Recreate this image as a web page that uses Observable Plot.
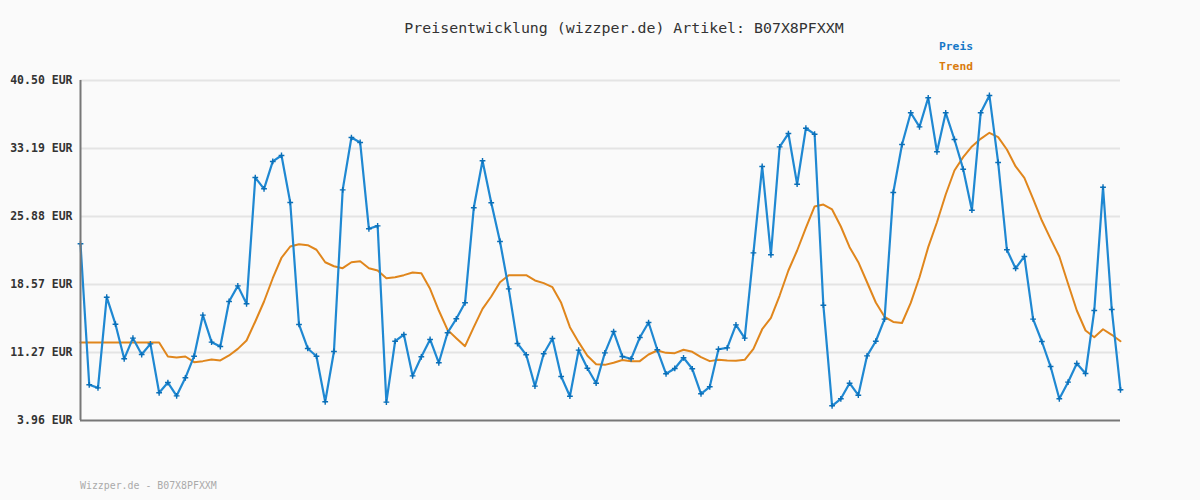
<!DOCTYPE html>
<html>
<head>
<meta charset="utf-8">
<script src="https://cdn.jsdelivr.net/npm/d3@7"></script>
<script src="https://cdn.jsdelivr.net/npm/@observablehq/plot@0.6"></script>
<style>
  html, body { margin: 0; padding: 0; background: #fafafa; }
  #wrap { position: relative; width: 1200px; height: 500px; background: #fafafa; font-family: "DejaVu Sans Mono", monospace; }
  #title { position: absolute; top: 19px; left: 0; width: 1248px; text-align: center; font-size: 14.9px; color: #333; }
  .leg { position: absolute; left: 939px; font-size: 11.3px; font-weight: bold; }
  #footer { position: absolute; left: 80px; top: 480px; font-size: 9.9px; color: #aaa; }
  #chart { position: absolute; left: 0; top: 0; }
</style>
</head>
<body>
<div id="wrap">
  <div id="chart"></div>
  <div id="title">Preisentwicklung (wizzper.de) Artikel: B07X8PFXXM</div>
  <div class="leg" style="top:40px;color:#1577c7">Preis</div>
  <div class="leg" style="top:60px;color:#d97a0c">Trend</div>
  <div id="footer">Wizzper.de - B07X8PFXXM</div>
</div>
<script>
const yTicks = [3.96, 11.27, 18.57, 25.88, 33.19, 40.50];
const preis = [22.95,7.80,7.47,17.21,14.31,10.59,12.81,11.05,12.20,6.94,
  8.04,6.61,8.55,10.87,15.28,12.38,11.91,16.75,18.43,16.50,
  30.07,28.86,31.80,32.44,27.39,14.28,11.70,10.87,5.97,11.38,
  28.75,34.37,33.84,24.56,24.88,5.93,12.48,13.20,8.76,10.81,
  12.67,10.16,13.39,14.89,16.61,26.82,31.87,27.36,23.20,18.11,
  12.23,11.02,7.65,11.13,12.77,8.69,6.57,11.52,9.58,7.97,
  11.23,13.52,10.84,10.59,12.88,14.49,11.56,8.98,9.55,10.70,
  9.52,6.83,7.58,11.62,11.77,14.24,12.81,21.98,31.26,21.77,
  33.37,34.80,29.35,35.37,34.73,16.35,5.54,6.29,7.97,6.68,
  10.91,12.48,14.85,28.47,33.62,37.03,35.52,38.64,32.84,37.03,
  34.16,30.97,26.56,37.03,38.89,31.69,22.31,20.30,21.59,14.85,
  12.45,9.76,6.29,8.08,10.09,9.01,15.78,29.03,15.89,7.26];
const trend = [12.34,12.34,12.34,12.34,12.34,12.34,12.34,12.34,12.34,12.34,
  10.84,10.73,10.84,10.23,10.34,10.52,10.41,10.95,11.66,12.56,
  14.60,16.75,19.25,21.45,22.66,22.91,22.80,22.31,20.97,20.54,
  20.33,20.97,21.08,20.33,20.08,19.25,19.36,19.58,19.87,19.79,
  18.11,15.78,13.70,12.81,11.95,13.99,15.96,17.29,18.82,19.58,
  19.58,19.58,19.01,18.72,18.29,16.61,13.99,12.38,10.91,10.01,
  9.94,10.16,10.46,10.34,10.34,11.05,11.48,11.23,11.20,11.56,
  11.34,10.77,10.34,10.48,10.41,10.38,10.48,11.66,13.77,15.00,
  17.39,20.08,22.23,24.67,26.96,27.17,26.64,24.81,22.59,20.97,
  18.82,16.64,15.10,14.55,14.44,16.60,19.36,22.59,25.27,28.25,
  30.83,32.26,33.41,34.23,34.88,34.41,33.08,31.26,30.04,27.79,
  25.45,23.48,21.59,18.65,15.78,13.63,12.91,13.77,13.17,12.48];

const preisData = preis.map((v, i) => ({i, v}));
const trendData = trend.map((v, i) => ({i, v}));

const plot = Plot.plot({
  width: 1200,
  height: 500,
  marginLeft: 80,
  marginRight: 80,
  marginTop: 80,
  marginBottom: 80,
  style: { background: "#fafafa", fontFamily: "DejaVu Sans Mono, monospace" },
  x: { domain: [0, preis.length - 1], axis: null },
  y: { domain: [3.96, 40.50], axis: null },
  marks: [
    Plot.ruleY(yTicks.slice(1), { stroke: "#e4e4e4", strokeWidth: 2 }),
    Plot.axisY({ ticks: yTicks, tickFormat: d => d.toFixed(2) + " EUR", tickSize: 0, tickPadding: 8,
      label: null, fontSize: 11.5, fontWeight: "bold", fill: "#333" }),
    Plot.line(trendData, { x: "i", y: "v", stroke: "#e0861c", strokeWidth: 2 }),
    Plot.line(preisData, { x: "i", y: "v", stroke: "#1f88d2", strokeWidth: 2.2 }),
    Plot.dot(preisData, { x: "i", y: "v", symbol: "plus", r: 2, stroke: "#0a6fb8", strokeWidth: 1.4, fill: "none" }),
    Plot.ruleX([0], { stroke: "#777", strokeWidth: 2 }),
    Plot.ruleY([3.96], { stroke: "#777", strokeWidth: 2 })
  ]
});
document.getElementById("chart").appendChild(plot);
</script>
</body>
</html>
